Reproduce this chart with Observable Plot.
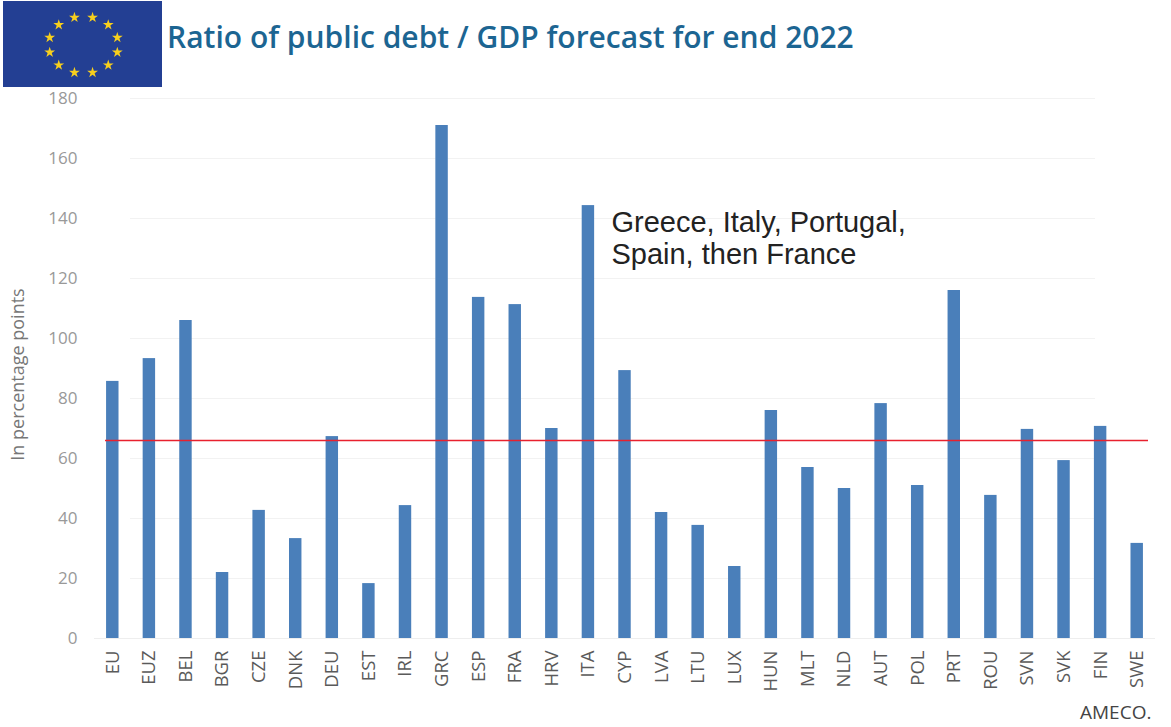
<!DOCTYPE html>
<html>
<head>
<meta charset="utf-8">
<script src="https://cdn.jsdelivr.net/npm/d3@7"></script>
<script src="https://cdn.jsdelivr.net/npm/@observablehq/plot@0.6"></script>
<style>
  html, body { margin: 0; padding: 0; background: #fff; }
  #page { position: relative; width: 1171px; height: 727px; overflow: hidden; }
  #page svg { display: block; }
  #flag { position: absolute; left: 3px; top: 1px; }
  #title { position: absolute; left: 167px; top: 16px; font: 600 30px "Open Sans", sans-serif; color: #1c6592; white-space: nowrap; }
  #source { position: absolute; left: 1080px; top: 699px; font: 19px "Open Sans", sans-serif; color: #444; }
</style>
</head>
<body>
<div id="page">
  <div id="chart"></div>
  <div id="flag"></div>
  <div id="title">Ratio of public debt / GDP forecast for end 2022</div>
  <div id="source">AMECO.</div>
</div>
<script>
// Public debt as a percentage of GDP, by country
const countries = ["EU","EUZ","BEL","BGR","CZE","DNK","DEU","EST","IRL","GRC","ESP","FRA","HRV","ITA","CYP","LVA","LTU","LUX","HUN","MLT","NLD","AUT","POL","PRT","ROU","SVN","SVK","FIN","SWE"];
const debtRatio = [85.7,93.3,106,22,42.7,33.3,67.3,18.3,44.3,171,113.7,111.3,70,144.3,89.3,42,37.7,24,76,57,50,78.3,51,116,47.7,69.7,59.3,70.7,31.7];
const yTicks = [0,20,40,60,80,100,120,140,160,180];
const referenceLevel = [66];
const noteLines = ["Greece, Italy, Portugal,", "Spain, then France"];
const rows = countries.map((country, i) => ({country, value: debtRatio[i]}));

const chart = Plot.plot({
  width: 1171,
  height: 727,
  marginLeft: 94,
  marginRight: 16,
  marginTop: 98,
  marginBottom: 89,
  style: {background: "transparent", fontFamily: "Open Sans, sans-serif"},
  x: {domain: countries, paddingInner: 0.66, paddingOuter: 0.33, round: false, label: null},
  y: {domain: [0, 180], ticks: yTicks, label: null},
  marks: [
    Plot.ruleY(yTicks.filter(t => t > 0), {stroke: "#f2f2f2", strokeWidth: 1, insetLeft: 36, insetRight: 60}),
    Plot.ruleY([0], {stroke: "#eeeeee", strokeWidth: 1}),
    Plot.barY(rows, {x: "country", y: "value", fill: "#4a7fba"}),
    Plot.ruleY(referenceLevel, {stroke: "#e8212e", strokeWidth: 1.6, insetLeft: 11, insetRight: 7}),
    Plot.axisY({ticks: yTicks, tickSize: 0, tickPadding: 17, fontSize: 17, color: "#999", label: null}),
    Plot.axisX({tickSize: 0, tickRotate: -90, tickPadding: 12, fontSize: 18.5, color: "#5a5a5a", label: null}),
    // Vertical axis caption, set beside the tick labels
    Plot.text(["In percentage points"], {
      frameAnchor: "left", dx: -76, dy: 6, rotate: -90,
      fontSize: 18, fill: "#777", textAnchor: "middle"
    }),
    Plot.text(noteLines, {
      x: () => "ITA",
      y: (d, i) => 138.7 - i * 10.7,
      dx: 23,
      textAnchor: "start",
      fontSize: 29,
      fontFamily: "Liberation Sans, sans-serif",
      fill: "#222"
    })
  ]
});
document.getElementById("chart").append(chart);

// European flag: a circle of twelve gold stars on blue
const starSlots = d3.range(12);
const flag = Plot.plot({
  width: 159,
  height: 86,
  margin: 0,
  style: {background: "#233f93"},
  x: {domain: [-79.5, 79.5], axis: null},
  y: {domain: [43, -43], axis: null},
  marks: [
    Plot.dot(starSlots, {
      x: i => 0.5 + 35 * Math.sin((i * 30 + 15) * Math.PI / 180),
      y: i => 0.5 + 28.5 * Math.cos((i * 30 + 15) * Math.PI / 180),
      symbol: "star",
      r: 3.4,
      fill: "#f7cf1d",
      stroke: "none"
    })
  ]
});
document.getElementById("flag").append(flag);
</script>
</body>
</html>
